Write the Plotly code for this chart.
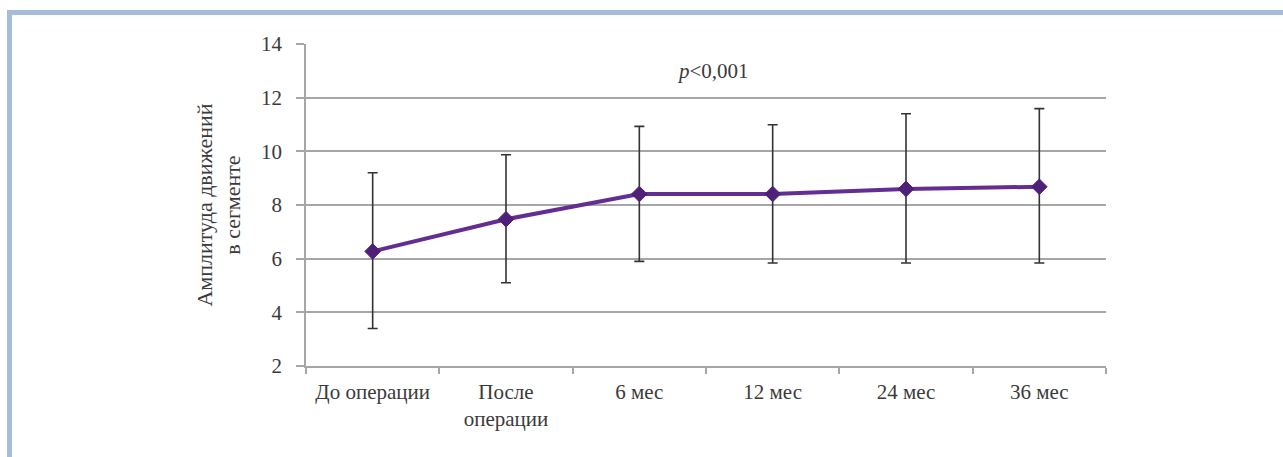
import plotly.graph_objects as go

categories = ["До операции", "После<br>операции", "6 мес", "12 мес", "24 мес", "36 мес"]
means = [6.27, 7.47, 8.41, 8.41, 8.60, 8.68]
upper = [9.20, 9.87, 10.93, 10.99, 11.40, 11.59]
lower = [3.40, 5.10, 5.90, 5.84, 5.84, 5.84]

err_plus = [u - m for u, m in zip(upper, means)]
err_minus = [m - l for m, l in zip(means, lower)]

W, H = 1283, 457
L, R, T, B = 306, 177, 44, 91
pw, ph = W - L - R, H - T - B

def px_x(px):
    return (px - L) / pw

def px_y(py):
    return 1 - (py - T) / ph

fig = go.Figure()
fig.add_trace(go.Scatter(
    x=categories, y=means, mode="lines+markers",
    line=dict(color="#642d91", width=4),
    marker=dict(symbol="diamond", size=12, color="#4f2077",
                line=dict(color="#4f2077", width=1)),
    error_y=dict(type="data", symmetric=False, array=err_plus, arrayminus=err_minus,
                 color="#333333", thickness=1.6, width=5),
    showlegend=False,
))

font = dict(family="Liberation Serif", size=21, color="#3a3a3a")
tfont = dict(family="Liberation Serif", size=22, color="#3a3a3a")

fig.update_layout(
    width=W, height=H,
    margin=dict(l=L, r=R, t=T, b=B),
    paper_bgcolor="white", plot_bgcolor="white",
    font=font,
    xaxis=dict(type="category", showgrid=False, showline=True, linecolor="#a6a6a6",
               linewidth=1.5, ticks="outside", tickson="boundaries", ticklen=6,
               tickcolor="#a6a6a6", tickwidth=1.5, tickfont=font, range=[-0.5, 5.5],
               ticklabelstandoff=6),
    yaxis=dict(range=[2, 14], dtick=2, showgrid=True, gridcolor="#a6a6a6", gridwidth=1.5,
               showline=True, linecolor="#a6a6a6", linewidth=1.5, ticks="outside",
               ticklen=8, tickcolor="#a6a6a6", tickwidth=1.5, tickfont=font,
               zeroline=False, ticklabelstandoff=10,
               title=dict(text="Амплитуда движений<br>в сегменте", font=tfont, standoff=14)),
    annotations=[dict(x=2.55, y=13, xref="x", yref="y", text="<i>p</i>&lt;0,001",
                      showarrow=False, font=font)],
    shapes=[
        dict(type="line", xref="paper", yref="paper", x0=px_x(7), x1=px_x(1290),
             y0=px_y(12.5), y1=px_y(12.5), line=dict(color="#a7bbdb", width=5)),
        dict(type="line", xref="paper", yref="paper", x0=px_x(9.5), x1=px_x(9.5),
             y0=px_y(10), y1=px_y(465), line=dict(color="#a7bbdb", width=5)),
    ],
)

fig.write_html("out.html")
